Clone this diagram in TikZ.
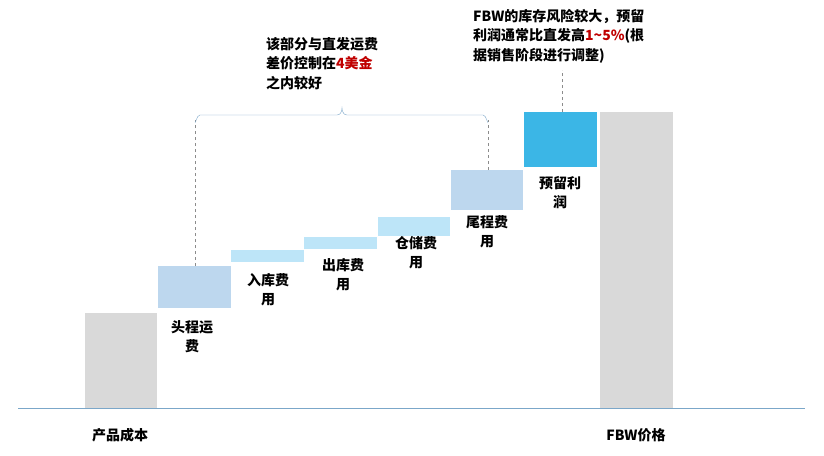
\documentclass[tikz,border=0pt]{standalone}
\usepackage{fontspec}
\setmainfont{Noto Sans CJK SC}
\begin{document}
\begin{tikzpicture}[x=1pt,y=-1pt,
 lbl/.style={font=\bfseries\fontsize{14}{19.5}\selectfont,align=left,inner sep=0pt},
 dl/.style={draw=black!45,dashed,thin}]
\definecolor{gr}{HTML}{D9D9D9}\definecolor{lb}{HTML}{BDD7EE}\definecolor{vl}{HTML}{BDE5F8}
\definecolor{db}{HTML}{3BB6E6}\definecolor{rd}{HTML}{C00000}\definecolor{ax}{HTML}{7BA7C9}
\useasboundingbox (0,0) rectangle (824,455);
\fill[white] (0,0) rectangle (824,455);
\fill[gr] (85,313) rectangle (157,408);
\fill[lb] (158,266) rectangle (231,308);
\fill[vl] (231,250) rectangle (304,262);
\fill[vl] (304,237) rectangle (377,249);
\fill[vl] (378,217) rectangle (450,236);
\fill[lb] (451,170) rectangle (523,210);
\fill[db] (524,112) rectangle (597,167);
\fill[gr] (600,112) rectangle (673,408);
\draw[ax] (18,408) -- (805,408);
\coordinate (bl) at (195,266); \coordinate (br) at (488,170);
\draw[dl] (bl) -- (195,120);\draw[dl] (br) -- (488,120);
\draw[draw=ax,thin] (195,122) to[out=-90,in=180] (200,115) -- (337,115) to[out=0,in=-90] (342,108) to[out=-90,in=180] (347,115) -- (483,115) to[out=0,in=-90] (488,122);
\draw[dl] (562,112) -- (562,70);
\node[lbl,anchor=north] (a) at (192,320) {头程运\\\hspace*{1em}费};
\node[lbl,anchor=north] (b) at (268,273) {入库费\\\hspace*{1em}用};
\node[lbl,anchor=north] (c) at (343,258) {出库费\\\hspace*{1em}用};
\node[lbl,anchor=north] (d) at (416,236) {仓储费\\\hspace*{1em}用};
\node[lbl,anchor=north] (e) at (487,215) {尾程费\\\hspace*{1em}用};
\node[lbl,anchor=north] (f) at (560,176) {预留利\\\hspace*{1em}润};
\node[lbl] (g) at (120,435) {产品成本};
\node[lbl] (h) at (636,435) {FBW价格};
\node[lbl,anchor=north west] (t1) at (266,37) {该部分与直发运费\\差价控制在\textcolor{rd}{4美金}\\之内较好};
\node[lbl,anchor=north west] (t2) at (473,9) {FBW的库存风险较大，预留\\利润通常比直发高\textcolor{rd}{1\textasciitilde5\%}(根\\据销售阶段进行调整)};
\end{tikzpicture}
\end{document}
